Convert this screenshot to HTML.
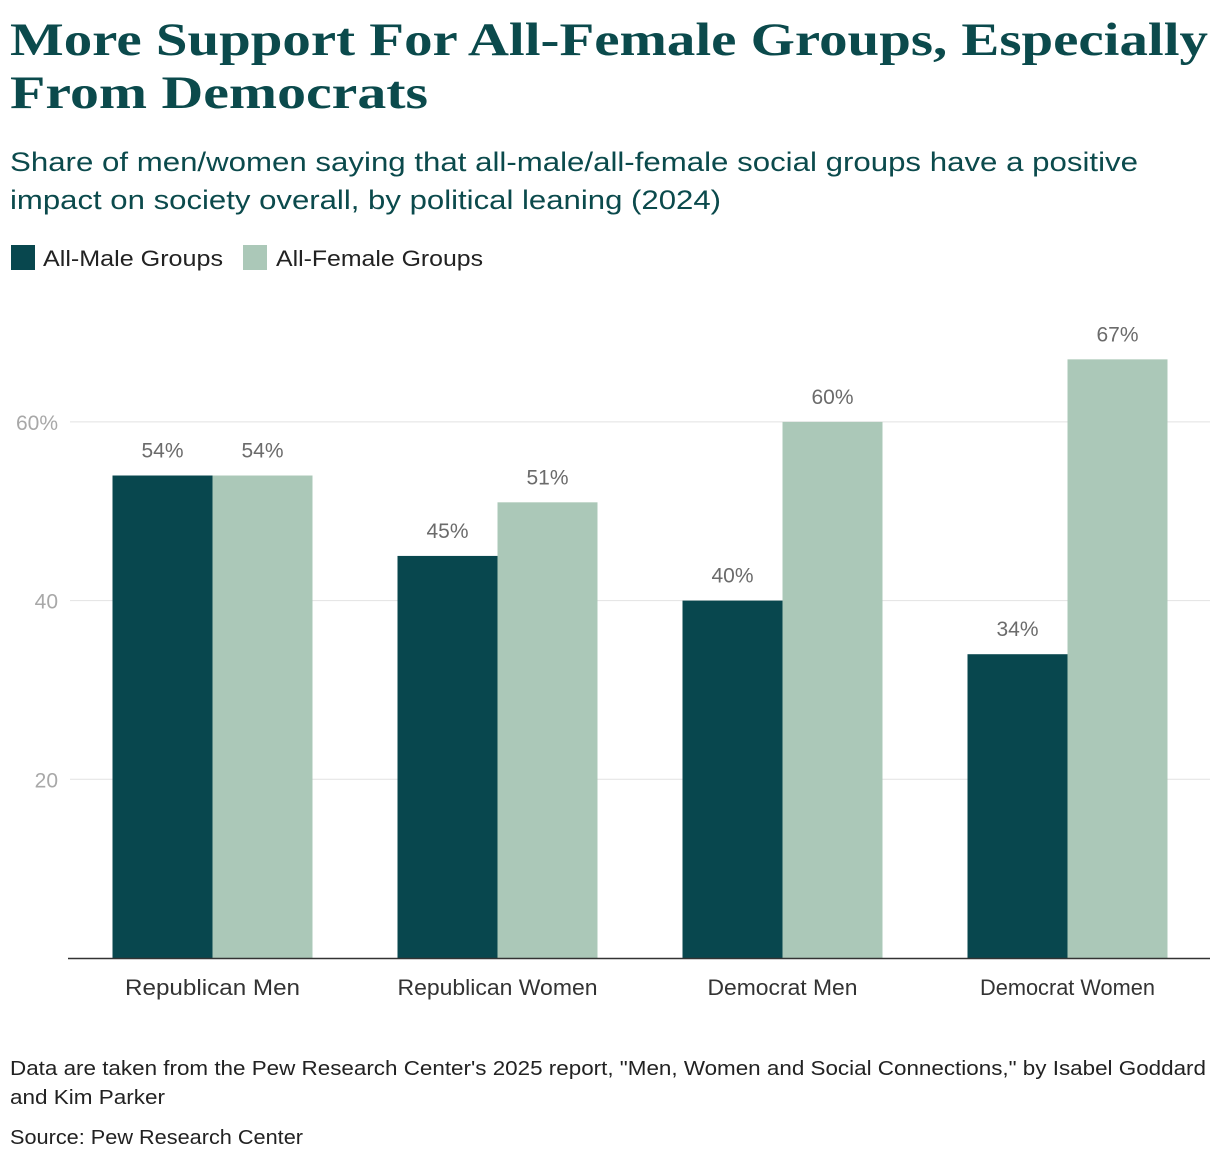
<!DOCTYPE html>
<html><head><meta charset="utf-8"><style>
html,body{margin:0;padding:0;background:#fff;}
svg{display:block;font-family:"Liberation Sans",sans-serif;}
</style></head><body>
<svg id="chart" width="1220" height="1162" viewBox="0 0 1220 1162">
<text x="10" y="55" font-family="Liberation Serif" font-weight="bold" font-size="47" fill="#0b4a4c" textLength="1198" lengthAdjust="spacingAndGlyphs">More Support For All-Female Groups, Especially</text>
<text x="10" y="108" font-family="Liberation Serif" font-weight="bold" font-size="47" fill="#0b4a4c" textLength="418" lengthAdjust="spacingAndGlyphs">From Democrats</text>
<text x="10" y="171" font-size="27" fill="#0b4a4c" textLength="1128" lengthAdjust="spacingAndGlyphs">Share of men/women saying that all-male/all-female social groups have a positive</text>
<text x="10" y="209" font-size="27" fill="#0b4a4c" textLength="711" lengthAdjust="spacingAndGlyphs">impact on society overall, by political leaning (2024)</text>
<g>
<rect x="11" y="245" width="24" height="25" fill="#08474e"/>
<text x="43" y="266" font-size="22" fill="#222" textLength="180" lengthAdjust="spacingAndGlyphs">All-Male Groups</text>
<rect x="243" y="245" width="24" height="25" fill="#abc8b8"/>
<text x="276" y="266" font-size="22" fill="#222" textLength="207" lengthAdjust="spacingAndGlyphs">All-Female Groups</text>
</g>
<g id="plot"></g>
<text x="10" y="1075" font-size="20" fill="#222" textLength="1196" lengthAdjust="spacingAndGlyphs">Data are taken from the Pew Research Center's 2025 report, "Men, Women and Social Connections," by Isabel Goddard</text>
<text x="10" y="1104" font-size="20" fill="#222" textLength="155" lengthAdjust="spacingAndGlyphs">and Kim Parker</text>
<text x="10" y="1144" font-size="20" fill="#222" textLength="293" lengthAdjust="spacingAndGlyphs">Source: Pew Research Center</text>
</svg>
<script>
const categories = ["Republican Men","Republican Women","Democrat Men","Democrat Women"];
const maleValues = [54,45,40,34];
const femaleValues = [54,51,60,67];
const yTicks = [20,40,60];
const yTickLabels = ["20","40","60%"];

const NS="http://www.w3.org/2000/svg";
const plot=document.getElementById('plot');
const x0=70,x1=1210,yBase=958,pxPer=8.935;
const band=(x1-x0)/categories.length, barW=100;
const y=v=>yBase-v*pxPer;
const xc=i=>x0+band*(i+0.5);
function mk(tag,attrs,parent){const e=document.createElementNS(NS,tag);for(const k in attrs)e.setAttribute(k,attrs[k]);(parent||plot).appendChild(e);return e;}
yTicks.forEach((t,i)=>{
  const g=mk('line',{x1:x0,x2:x1,y1:y(t),y2:y(t),stroke:'#e2e2e2','stroke-width':1});
  
  
  const l=mk('text',{x:58,y:y(t)+8,'text-anchor':'end','font-size':21,fill:'#a8a8a8'});
  l.textContent=yTickLabels[i];
  
  
});
function bar(v,xl,color,name){
  const r=mk('rect',{x:xl,y:y(v),width:barW,height:yBase-y(v),fill:color});
  
  
  const t=mk('text',{x:xl+barW/2,y:y(v)-18,'text-anchor':'middle','font-size':21,fill:'#6b6b6b'});
  t.textContent=v+'%';
  
  
}
categories.forEach((c,i)=>{
  bar(maleValues[i],xc(i)-barW,'#08474e','bar-male');
  bar(femaleValues[i],xc(i),'#abc8b8','bar-female');
  const t=mk('text',{x:xc(i),y:995,'text-anchor':'middle','font-size':22,fill:'#333',textLength:Math.round(c.length*12.5),lengthAdjust:'spacingAndGlyphs'});
  t.textContent=c;
  
  
});
const ax=mk('line',{x1:68,x2:x1,y1:yBase+0.5,y2:yBase+0.5,stroke:'#333','stroke-width':1.5});


</script>
</body></html>
